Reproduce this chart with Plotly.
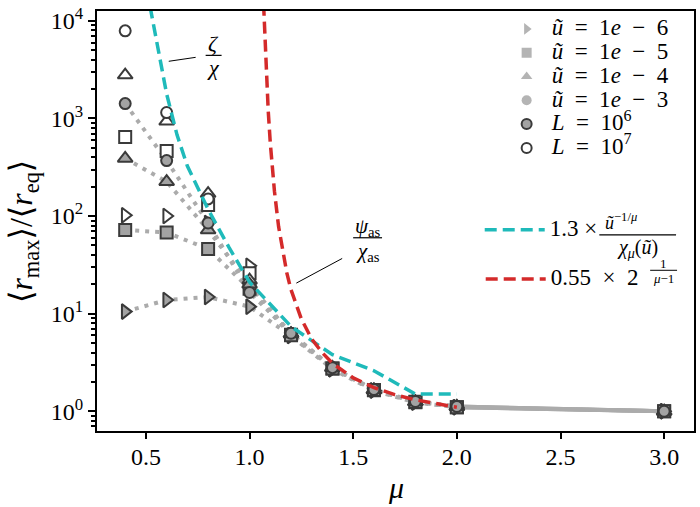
import plotly.graph_objects as go

# ---------------- data ----------------
mu = [0.4, 0.6, 0.8, 1.0, 1.2, 1.4, 1.6, 1.8, 2.0, 3.0]

# L = 10^6 (grey filled markers, dotted lines)
L6_u1e6 = [10.5, 13.8, 14.8, 11.8, 5.9, 2.70, 1.63, 1.23, 1.10, 1.0]
L6_u1e5 = [72, 68, 46, 18.0, 6.0, 2.75, 1.65, 1.25, 1.10, 1.0]
L6_u1e4 = [390, 225, 72, 20.0, 6.2, 2.80, 1.66, 1.25, 1.12, 1.0]
L6_u1e3 = [1420, 370, 85, 16.5, 6.3, 2.80, 1.67, 1.26, 1.12, 1.0]

# L = 10^7 (open markers)
L7_u1e6 = [102, 100, 85, 31, 6.0, 2.70, 1.63, 1.23, 1.10, 1.0]
L7_u1e5 = [645, 465, 130, 26, 6.1, 2.75, 1.64, 1.24, 1.10, 1.0]
L7_u1e4 = [2780, 935, 170, 22, 6.2, 2.80, 1.65, 1.25, 1.11, 1.0]
L7_u1e3 = [7900, 1150, 150, 17, 6.3, 2.80, 1.66, 1.26, 1.12, 1.0]

# theory curves
mu_cyan = [0.52, 0.55, 0.6, 0.65, 0.7, 0.8, 0.9, 1.0, 1.2, 1.4, 1.6, 1.8, 2.0]
cyan_vals = [14000, 6200, 1780, 680, 325, 117, 48, 21, 7.4, 3.8, 2.6, 1.5, 1.5]

mu_red = [1.06, 1.07, 1.08, 1.09, 1.10, 1.12, 1.14, 1.16, 1.18, 1.20, 1.25,
          1.30, 1.35, 1.40, 1.50, 1.60, 1.70, 1.80, 1.90, 2.00]
red_vals = [35000, 11000, 3200, 1200, 560, 180, 78, 43, 26, 17.6, 8.8,
            5.5, 4.0, 3.1, 2.2, 1.75, 1.48, 1.31, 1.19, 1.10]

x_ticks = [0.5, 1.0, 1.5, 2.0, 2.5, 3.0]
x_ticklabels = ["0.5", "1.0", "1.5", "2.0", "2.5", "3.0"]
y_ticks = [1, 10, 100, 1000, 10000]
y_ticklabels = ["10<sup>0</sup>", "10<sup>1</sup>", "10<sup>2</sup>",
                "10<sup>3</sup>", "10<sup>4</sup>"]

# ---------------- style ----------------
SERIF = "Liberation Serif, DejaVu Serif, serif"
EDGE = "#3a3a3a"
FILL = "#a3a3a3"
LEG_GREY = "#b4b4b4"
DOT = "#ababab"
CYAN = "#1fbaba"
RED = "#d42a2a"
SP = "\u2002"  # en space, mimics math-mode spacing

W, H = 700, 507
L_PX, R_PX, T_PX, B_PX = 97, 696, 5, 431


def px2x(px):
    return (px - L_PX) / (R_PX - L_PX)


def py2y(py):
    return (B_PX - py) / (B_PX - T_PX)


fig = go.Figure()

series = [
    ("triangle-right", 13, L6_u1e6, L7_u1e6),
    ("square", 12, L6_u1e5, L7_u1e5),
    ("triangle-up", 13, L6_u1e4, L7_u1e4),
    ("circle", 11, L6_u1e3, L7_u1e3),
]

# dotted connecting lines for L = 10^6 (solid on the last stretch to mu = 3)
for sym, sz, y6, y7 in series:
    fig.add_trace(go.Scatter(x=mu[:-1], y=y6[:-1], mode="lines",
                             showlegend=False,
                             line=dict(color=DOT, width=4, dash="4px,6px"),
                             hoverinfo="skip"))
    fig.add_trace(go.Scatter(x=mu[-2:], y=y6[-2:], mode="lines",
                             showlegend=False,
                             line=dict(color=DOT, width=4),
                             hoverinfo="skip"))

# open markers L = 10^7
for sym, sz, y6, y7 in series:
    fig.add_trace(go.Scatter(x=mu, y=y7, mode="markers", showlegend=False,
                             marker=dict(symbol=sym, size=sz, color="white",
                                         line=dict(color=EDGE, width=2))))
# filled markers L = 10^6
for sym, sz, y6, y7 in series:
    fig.add_trace(go.Scatter(x=mu, y=y6, mode="markers", showlegend=False,
                             marker=dict(symbol=sym, size=sz, color=FILL,
                                         line=dict(color=EDGE, width=2))))

# theory curves
fig.add_trace(go.Scatter(x=mu_cyan, y=cyan_vals, mode="lines",
                         line=dict(color=CYAN, width=3.5, dash="12px,6px"),
                         name='<span style="font-size:23px">1.3 ×</span>',
                         legend="legend2"))
fig.add_trace(go.Scatter(x=mu_red, y=red_vals, mode="lines",
                         line=dict(color=RED, width=3.5, dash="12px,6px"),
                         name='<span style="font-size:23px">0.55' + SP + '×'
                              + SP + '2</span>',
                         legend="legend3"))


def span(t):
    return '<span style="font-size:23px">' + t + '</span>'


leg_entries = [
    ("triangle-right", LEG_GREY, LEG_GREY, 0,
     span("<i>ũ</i>" + SP + "=" + SP + "1<i>e</i>" + SP + "−" + SP + "6")),
    ("square", LEG_GREY, LEG_GREY, 0,
     span("<i>ũ</i>" + SP + "=" + SP + "1<i>e</i>" + SP + "−" + SP + "5")),
    ("triangle-up", LEG_GREY, LEG_GREY, 0,
     span("<i>ũ</i>" + SP + "=" + SP + "1<i>e</i>" + SP + "−" + SP + "4")),
    ("circle", LEG_GREY, LEG_GREY, 0,
     span("<i>ũ</i>" + SP + "=" + SP + "1<i>e</i>" + SP + "−" + SP + "3")),
    ("circle", FILL, EDGE, 2, span("<i>L</i>" + SP + "=" + SP + "10<sup>6</sup>")),
    ("circle", "white", EDGE, 2, span("<i>L</i>" + SP + "=" + SP + "10<sup>7</sup>")),
]
for sym, col, ecol, ew, name in leg_entries:
    fig.add_trace(go.Scatter(x=[None], y=[None], mode="markers", name=name,
                             marker=dict(symbol=sym, size=10, color=col,
                                         line=dict(color=ecol, width=ew)),
                             legend="legend"))

annotations = []
shapes = []


def add_text(text, px, py, size, xanchor="center", family=SERIF):
    annotations.append(dict(text=text, x=px2x(px), y=py2y(py), xref="paper",
                            yref="paper", showarrow=False, xanchor=xanchor,
                            yanchor="middle",
                            font=dict(family=family, size=size, color="black")))


def add_line(x0, y0, x1, y1, width=1):
    shapes.append(dict(type="line", xref="paper", yref="paper",
                       x0=px2x(x0), y0=py2y(y0), x1=px2x(x1), y1=py2y(y1),
                       line=dict(color="black", width=width)))


# zeta / chi annotation
add_text("<i>ζ</i>", 214, 38, 22)
add_line(206, 50, 222, 50, 1.2)
add_text("<i>χ</i>", 214, 62, 22)
add_line(169, 56, 196, 52, 1)

# psi_as / chi_as annotation
add_text("<i>ψ</i><sub>as</sub>", 369, 224, 21)
add_line(354, 235, 383, 235, 1.2)
add_text("<i>χ</i><sub>as</sub>", 369, 249, 21)
add_line(297, 281, 343, 256, 1)

# cyan legend fraction
add_text("<i>ũ</i><sup>−1/<i>μ</i></sup>", 623, 219, 18)
add_line(601, 232, 678, 232, 1.2)
add_text("<i>χ<sub>μ</sub></i>(<i>ũ</i>)", 639, 246, 20)

# red legend exponent
add_text("1", 665, 261, 13)
add_line(652, 268, 679, 268, 1)
add_text("<i>μ</i>−1", 665, 276, 13)

# axis titles
add_text("<i>μ</i>", 397, 488, 30)
annotations.append(dict(text="⟨<i>r</i><sub>max</sub>⟩/⟨<i>r</i><sub>eq</sub>⟩",
                        x=px2x(24), y=py2y(229), xref="paper", yref="paper",
                        showarrow=False, textangle=-90, xanchor="center",
                        yanchor="middle",
                        font=dict(family=SERIF, size=32, color="black")))

minor_vals = [m * 10 ** e for e in range(-1, 5) for m in range(2, 10)]

fig.update_layout(
    width=W, height=H,
    margin=dict(l=L_PX, r=W - R_PX, t=T_PX, b=H - B_PX, pad=0),
    paper_bgcolor="white", plot_bgcolor="white",
    font=dict(family=SERIF, size=24, color="black"),
    xaxis=dict(range=[0.264, 3.144], tickmode="array", tickvals=x_ticks,
               ticktext=x_ticklabels, ticks="outside", ticklen=6, tickwidth=2,
               tickcolor="black", showline=True, linecolor="black",
               linewidth=2, mirror=True, showgrid=False, zeroline=False,
               ticklabelstandoff=-3,
               tickfont=dict(family=SERIF, size=24, color="black")),
    yaxis=dict(type="log", range=[-0.202, 4.101], tickmode="array",
               tickvals=y_ticks, ticktext=y_ticklabels, ticks="outside",
               ticklen=7, tickwidth=2, tickcolor="black", showline=True,
               linecolor="black", linewidth=2, mirror=True, showgrid=False,
               zeroline=False, ticklabeloverflow="allow",
               tickfont=dict(family=SERIF, size=24, color="black"),
               minor=dict(tickmode="array", tickvals=minor_vals,
                          ticks="outside", ticklen=4, tickwidth=1.5,
                          tickcolor="black", showgrid=False)),
    legend=dict(x=px2x(503), y=py2y(6), xanchor="left", yanchor="top",
                bgcolor="rgba(0,0,0,0)", borderwidth=0, itemwidth=40,
                font=dict(family=SERIF, size=16, color="black"),
                tracegroupgap=0),
    legend2=dict(x=px2x(481), y=py2y(227), xanchor="left", yanchor="middle",
                 bgcolor="rgba(0,0,0,0)", borderwidth=0, itemwidth=60,
                 font=dict(family=SERIF, size=16, color="black")),
    legend3=dict(x=px2x(482), y=py2y(277), xanchor="left", yanchor="middle",
                 bgcolor="rgba(0,0,0,0)", borderwidth=0, itemwidth=60,
                 font=dict(family=SERIF, size=16, color="black")),
    annotations=annotations,
    shapes=shapes,
    showlegend=True,
)

fig.write_html("out.html", config={"displayModeBar": False},
               post_script="document.body.style.margin='0';"
                           "document.body.style.padding='0';")
